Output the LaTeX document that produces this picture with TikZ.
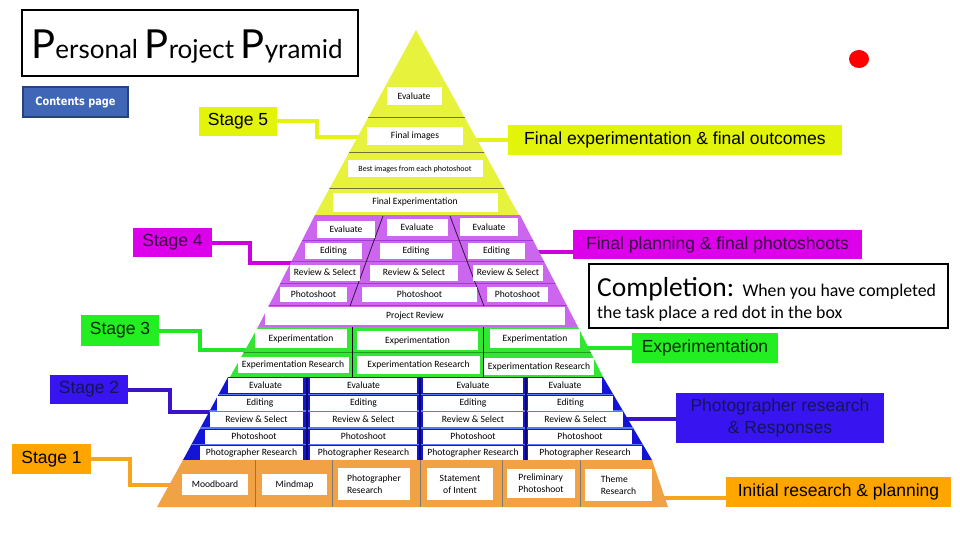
\documentclass[tikz,border=0pt]{standalone}
\usepackage{fontspec}
\setmainfont{Liberation Sans}
\newfontfamily\cellfont{Carlito}
\newfontfamily\ttlfont{Lato}
\newfontfamily\cpfont{DejaVu Sans}[FakeStretch=0.85]
\usetikzlibrary{shapes.geometric}
\definecolor{pyY}{RGB}{230,242,60}
\definecolor{pyP}{RGB}{204,102,238}
\definecolor{pyG}{RGB}{51,230,51}
\definecolor{pyB}{RGB}{20,20,215}
\definecolor{pyO}{RGB}{240,162,68}
\definecolor{labY}{RGB}{226,244,10}
\definecolor{labP}{RGB}{220,0,235}
\definecolor{labG}{RGB}{34,238,34}
\definecolor{labB}{RGB}{55,20,240}
\definecolor{labO}{RGB}{255,165,0}
\definecolor{cY}{RGB}{228,242,20}
\definecolor{cP}{RGB}{204,0,220}
\definecolor{cG}{RGB}{34,230,34}
\definecolor{cB}{RGB}{60,20,200}
\definecolor{cO}{RGB}{245,165,30}
\definecolor{cpblue}{RGB}{63,103,182}
\definecolor{cpdark}{RGB}{40,65,130}
\definecolor{darkP}{RGB}{60,0,70}
\definecolor{darkB}{RGB}{20,20,90}
\definecolor{darkG}{RGB}{0,40,0}
\definecolor{sepY}{RGB}{112,112,60}
\definecolor{sepP}{RGB}{160,60,210}
\definecolor{diagP}{RGB}{50,20,70}
\definecolor{sepG}{RGB}{30,160,30}
\definecolor{sepB}{RGB}{90,120,255}
\definecolor{navy}{RGB}{10,10,100}
\definecolor{sepO}{RGB}{130,120,110}
\newcommand\cellfnt{\cellfont\fontsize{9.6}{12}\selectfont}
\begin{document}
\begin{tikzpicture}[x=1pt,y=-1pt,
  cell/.style={fill=white,inner sep=0pt,font=\cellfnt,text=black},
  lbl/.style={inner sep=0pt,font=\fontsize{17.5}{22}\selectfont},
  conn/.style={line width=4pt}]
\useasboundingbox (0,0) rectangle (960,540);
\fill[white] (0,0) rectangle (960,540);

% connector end points on the pyramid
\coordinate (p5L) at (364,137);
\coordinate (p5R) at (470,140);
\coordinate (p4L) at (296,263);
\coordinate (p4R) at (533,252);
\coordinate (p3L) at (251,350);
\coordinate (p3R) at (582,348);
\coordinate (p2L) at (215,412);
\coordinate (p2R) at (622,419);
\coordinate (p1L) at (175,485);
\coordinate (p1R) at (659,498);

% title and button
\node[draw=black,line width=2pt,minimum width=336,minimum height=66,inner sep=0pt] (title) at (190,43) {};
\node[anchor=base,inner sep=0pt] (ttl) at (187,59) {\ttlfont\fontsize{40}{40}\selectfont P\fontsize{26}{26}\selectfont ersonal \fontsize{40}{40}\selectfont P\fontsize{26}{26}\selectfont roject \fontsize{40}{40}\selectfont P\fontsize{26}{26}\selectfont yramid};
\node[fill=cpblue,draw=cpdark,line width=1.5pt,minimum width=105,minimum height=30,inner sep=0pt,text=white,font=\cpfont\bfseries\fontsize{11.5}{12}\selectfont] (cp) at (75.5,102) {Contents page};
\node[ellipse,fill=red,minimum width=20,minimum height=18,inner sep=0pt] (dot) at (859,59) {};

% stage labels
\node[lbl,fill=labY,minimum width=78,minimum height=29] (s5) at (238,121.5) {Stage 5};
\node[lbl,fill=labP,text=darkP,minimum width=79,minimum height=29] (s4) at (172.5,242.5) {Stage 4};
\node[lbl,fill=labG,text=darkG,minimum width=78,minimum height=31] (s3) at (120,330.5) {Stage 3};
\node[lbl,fill=labB,text=darkB,minimum width=78,minimum height=29] (s2) at (89,389.5) {Stage 2};
\node[lbl,fill=labO,minimum width=79,minimum height=30] (s1) at (51.5,459) {Stage 1};

% right labels
\node[lbl,fill=labY,minimum width=334,minimum height=30] (r5) at (675,140) {Final experimentation \& final outcomes};
\node[lbl,fill=labP,text=darkP,minimum width=289,minimum height=29] (r4) at (717.5,244.5) {Final planning \& final photoshoots};
\node[lbl,fill=labG,text=darkG,minimum width=146,minimum height=30] (r3) at (705,348) {Experimentation};
\node[lbl,fill=labB,text=darkB,minimum width=208,minimum height=50,align=center] (r2) at (780,418) {Photographer research\\\& Responses};
\node[lbl,fill=labO,minimum width=225,minimum height=30] (r1) at (838.5,492) {Initial research \& planning};

% completion box
\node[draw=black,line width=2pt,minimum width=359,minimum height=64,inner sep=0pt] (comp) at (768.5,296) {};
\node[anchor=base west,inner sep=0pt,font=\cellfont] (ct1) at (597,296) {\fontsize{27.5}{30}\selectfont Completion: \fontsize{17.8}{20}\selectfont When you have completed};
\node[anchor=base west,inner sep=0pt,font=\cellfont\fontsize{17.8}{20}\selectfont] (ct2) at (597,318) {the task place a red dot in the box};

% connectors
\draw[conn,cY] (s5.east) -- ++(40,0) |- (p5L);
\draw[conn,cP] (s4.east) -- ++(38,0) |- (p4L);
\draw[conn,cG] (s3.east) -- ++(41,0) |- (p3L);
\draw[conn,cB] (s2.east) -- ++(42,0) |- (p2L);
\draw[conn,cO] (s1.east) -- ++(39,0) |- (p1L);
\draw[conn,cY] (p5R) -- (p5R -| r5.west);
\draw[conn,cP] (p4R) -- (p4R -| r4.west);
\draw[conn,cG] (p3R) -- (p3R -| r3.west);
\draw[conn,cB] (p2R) -- (p2R -| r2.west);
\draw[conn,cO] (p1R) -- (p1R -| r1.west);

% pyramid bands
\fill[pyY] (416,30) -- (519,215) -- (315,215) -- cycle;
\fill[pyP] (315,215) -- (520,215) -- (578,327) -- (258,327) -- cycle;
\fill[pyG] (258,327) -- (578,327) -- (603,377) -- (230,377) -- cycle;
\fill[pyB] (228,377) -- (603,377) -- (652,460) -- (183,460) -- cycle;
\fill[pyO] (183,460) -- (652,460) -- (668,507) -- (157,507) -- cycle;

% separators
\begin{scope}
\clip (416,30) -- (519,215) -- (315,215) -- cycle;
\draw[line width=1pt,sepY] (300,118) -- (540,118) (300,153) -- (540,153) (300,188) -- (540,188);
\end{scope}
\begin{scope}
\clip (315,215) -- (520,215) -- (578,327) -- (258,327) -- cycle;
\draw[line width=1pt,sepP] (240,240) -- (600,240) (240,261.5) -- (600,261.5) (240,283.5) -- (600,283.5) (240,305.5) -- (600,305.5);
\end{scope}
\draw[line width=0.8pt,diagP] (383,216) -- (350,306) (450,216) -- (484,306);
\begin{scope}
\clip (258,327) -- (578,327) -- (603,377) -- (230,377) -- cycle;
\draw[line width=1pt,sepG] (220,352) -- (620,352);
\end{scope}
\draw[line width=0.8pt,black] (352,327) -- (352,377) (483,327) -- (483,377);
\begin{scope}
\clip (228,377) -- (603,377) -- (652,460) -- (183,460) -- cycle;
\draw[line width=1.2pt,sepB] (170,394.5) -- (670,394.5) (170,411) -- (670,411) (170,428) -- (670,428) (170,444.5) -- (670,444.5);
\end{scope}
\draw[line width=2.4pt,navy] (307,377) -- (307,460) (420,377) -- (420,460) (526,377) -- (526,460);
\draw[line width=1pt,sepO] (255,460) -- (255,507) (332,460) -- (332,507) (420,460) -- (420,507) (502,460) -- (502,507) (580,460) -- (580,507);

% yellow cells
\node[cell,minimum width=55,minimum height=18] (y1) at (414,96) {Evaluate};
\node[cell,minimum width=96,minimum height=18] (y2) at (415,136) {Final images};
\node[cell,minimum width=135,minimum height=17,font=\cellfont\fontsize{8}{9}\selectfont] (y3) at (415,169) {Best images from each photoshoot};
\node[cell,minimum width=165,minimum height=19] (y4) at (415,202) {Final Experimentation};

% purple cells
\node[cell,minimum width=58,minimum height=17] (pe1) at (346,229) {Evaluate};
\node[cell,minimum width=61,minimum height=17] (pe2) at (417,227) {Evaluate};
\node[cell,minimum width=58,minimum height=18] (pe3) at (489,227) {Evaluate};
\node[cell,minimum width=57,minimum height=16] (pd1) at (333.5,251) {Editing};
\node[cell,minimum width=72,minimum height=16] (pd2) at (416,251) {Editing};
\node[cell,minimum width=57,minimum height=16] (pd3) at (496.5,251) {Editing};
\node[cell,minimum width=70,minimum height=16] (pr1) at (325,272.5) {Review \& Select};
\node[cell,minimum width=88,minimum height=16] (pr2) at (414,272.5) {Review \& Select};
\node[cell,minimum width=70,minimum height=16] (pr3) at (508,272.5) {Review \& Select};
\node[cell,minimum width=67,minimum height=15] (pp1) at (313.5,294.5) {Photoshoot};
\node[cell,minimum width=115,minimum height=15] (pp2) at (419.5,294.5) {Photoshoot};
\node[cell,minimum width=61,minimum height=15] (pp3) at (517.5,294.5) {Photoshoot};
\node[cell,minimum width=300,minimum height=18] (prv) at (415,316) {Project Review};

% green cells
\node[cell,minimum width=92,minimum height=19] (ge1) at (301,338.5) {Experimentation};
\node[cell,minimum width=121,minimum height=19] (ge2) at (417.5,340.5) {Experimentation};
\node[cell,minimum width=90,minimum height=19] (ge3) at (535,338.5) {Experimentation};
\node[cell,minimum width=111,minimum height=16] (gr1) at (293,365) {Experimentation Research};
\node[cell,minimum width=123,minimum height=18] (gr2) at (418.5,365) {Experimentation Research};
\node[cell,minimum width=110,minimum height=17] (gr3) at (539,366.5) {Experimentation Research};

% blue cells
\node[cell,minimum width=75,minimum height=15] (b11) at (265.5,385.5) {Evaluate};
\node[cell,minimum width=107,minimum height=15] (b12) at (363.5,385.5) {Evaluate};
\node[cell,minimum width=100,minimum height=15] (b13) at (473,385.5) {Evaluate};
\node[cell,minimum width=74,minimum height=15] (b14) at (565,385.5) {Evaluate};
\node[cell,minimum width=86,minimum height=15] (b21) at (260,403) {Editing};
\node[cell,minimum width=107,minimum height=15] (b22) at (363.5,403) {Editing};
\node[cell,minimum width=100,minimum height=15] (b23) at (473,403) {Editing};
\node[cell,minimum width=85,minimum height=15] (b24) at (570.5,403) {Editing};
\node[cell,minimum width=93,minimum height=15] (b31) at (256.5,419.5) {Review \& Select};
\node[cell,minimum width=107,minimum height=15] (b32) at (363.5,419.5) {Review \& Select};
\node[cell,minimum width=100,minimum height=15] (b33) at (473,419.5) {Review \& Select};
\node[cell,minimum width=95,minimum height=15] (b34) at (575.5,419.5) {Review \& Select};
\node[cell,minimum width=98,minimum height=14] (b41) at (254,436.5) {Photoshoot};
\node[cell,minimum width=107,minimum height=14] (b42) at (363.5,436.5) {Photoshoot};
\node[cell,minimum width=100,minimum height=14] (b43) at (473,436.5) {Photoshoot};
\node[cell,minimum width=104,minimum height=14] (b44) at (580,436.5) {Photoshoot};
\node[cell,minimum width=103,minimum height=14] (b51) at (251.5,452.5) {Photographer Research};
\node[cell,minimum width=107,minimum height=14] (b52) at (363.5,452.5) {Photographer Research};
\node[cell,minimum width=100,minimum height=14] (b53) at (473,452.5) {Photographer Research};
\node[cell,minimum width=114,minimum height=14] (b54) at (585,452.5) {Photographer Research};

% orange cells
\node[cell,minimum width=66,minimum height=21] (o1) at (215,484.5) {Moodboard};
\node[cell,minimum width=65,minimum height=21] (o2) at (294.5,484.5) {Mindmap};
\node[cell,minimum width=72,minimum height=32,align=left] (o3) at (374,484) {Photographer\\Research};
\node[cell,minimum width=66,minimum height=32,align=center] (o4) at (460,484) {Statement\\of Intent};
\node[cell,minimum width=68,minimum height=29,align=left] (o5) at (541,483.5) {Preliminary\\Photoshoot};
\node[cell,minimum width=67,minimum height=32,align=left] (o6) at (618.5,485) {Theme\\Research};
\end{tikzpicture}
\end{document}
